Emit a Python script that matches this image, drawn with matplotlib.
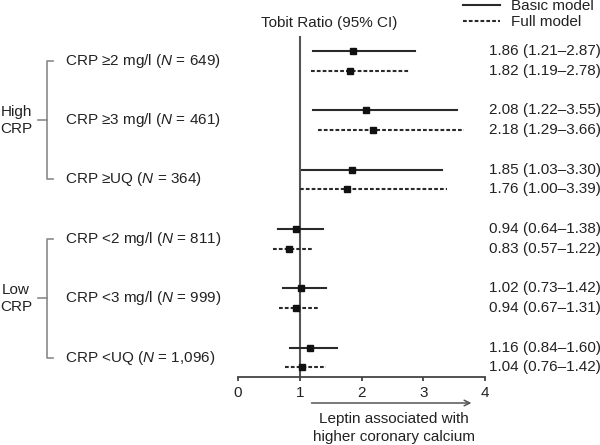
import matplotlib
matplotlib.use("Agg")
import matplotlib.pyplot as plt
from matplotlib.lines import Line2D
import matplotlib.transforms as mtransforms

plt.rcParams['font.family'] = ['Liberation Sans', 'DejaVu Sans']
plt.rcParams['mathtext.fontset'] = 'custom'
plt.rcParams['mathtext.rm'] = 'Liberation Sans'
plt.rcParams['mathtext.it'] = 'Liberation Sans:italic'

# ---------------- data ----------------
categories = ["CRP \u22652 mg/l", "CRP \u22653 mg/l", "CRP \u2265UQ",
              "CRP <2 mg/l", "CRP <3 mg/l", "CRP <UQ"]
n_values = ["649", "461", "364", "811", "999", "1,096"]
basic_est = [1.86, 2.08, 1.85, 0.94, 1.02, 1.16]
basic_lo = [1.21, 1.22, 1.03, 0.64, 0.73, 0.84]
basic_hi = [2.87, 3.55, 3.30, 1.38, 1.42, 1.60]
full_est = [1.82, 2.18, 1.76, 0.83, 0.94, 1.04]
full_lo = [1.19, 1.29, 1.00, 0.57, 0.67, 0.76]
full_hi = [2.78, 3.66, 3.39, 1.22, 1.31, 1.42]
groups = ["High\nCRP", "Low\nCRP"]
xticks = [0, 1, 2, 3, 4]

# ---------------- layout ----------------
W, H = 600, 445
fig = plt.figure(figsize=(6, 4.45), dpi=100)
ax_top, ax_bot = 30, 377
ax = fig.add_axes([238 / W, 1 - ax_bot / H, 247 / W, (ax_bot - ax_top) / H])
ax.set_xlim(0, 4)
ax.set_ylim(ax_bot, ax_top)   # y in pixel-like layout units

row0, gstep, fstep = 51, 59.35, 19.6
ypos_basic = [row0 + i * gstep for i in range(len(categories))]
ypos_full = [y + fstep for y in ypos_basic]

line_c = '#2a2a2a'
text_c = '#222222'

# reference line at 1
ax.plot([1, 1], [37, ax_bot], color='#555555', lw=1.5, zorder=1, clip_on=False)

for i in range(len(categories)):
    yb, yf = ypos_basic[i], ypos_full[i]
    ax.plot([basic_lo[i], basic_hi[i]], [yb, yb], color=line_c, lw=1.5, zorder=2)
    ax.plot([basic_est[i]], [yb], marker='s', ms=4.8, color='#111111', zorder=3)
    ax.plot([full_lo[i], full_hi[i]], [yf, yf], color=line_c, lw=1.5,
            ls=(0, (1.8, 1.0)), zorder=2)
    ax.plot([full_est[i]], [yf], marker='s', ms=4.8, color='#111111', zorder=3)
    ax.text(4.065, yb, f"{basic_est[i]:.2f} ({basic_lo[i]:.2f}\u2013{basic_hi[i]:.2f})",
            ha='left', va='center', fontsize=11, color=text_c, clip_on=False)
    ax.text(4.065, yf, f"{full_est[i]:.2f} ({full_lo[i]:.2f}\u2013{full_hi[i]:.2f})",
            ha='left', va='center', fontsize=11, color=text_c, clip_on=False)

# axes styling
for s in ['top', 'right', 'left']:
    ax.spines[s].set_visible(False)
ax.spines['bottom'].set_color('#444444')
ax.spines['bottom'].set_linewidth(1.3)
ax.set_yticks([])
ax.set_xticks(xticks)
ax.set_xticklabels([str(t) for t in xticks])
ax.tick_params(axis='x', direction='out', length=3, width=1.3, colors='#444444',
               labelsize=11, labelcolor=text_c, pad=3.5)
ax.patch.set_visible(False)

# left labels and brackets (x in figure fraction, y in layout units)
blend = mtransforms.blended_transform_factory(fig.transFigure, ax.transData)
mids = [(b + f) / 2 for b, f in zip(ypos_basic, ypos_full)]
for i, cat in enumerate(categories):
    ax.text(65 / W, mids[i], cat + r" ($\mathit{N}$ = " + n_values[i] + ")",
            transform=blend, ha='left', va='center', fontsize=11, color=text_c,
            clip_on=False)

br_c = '#8a8a8a'
for g, name in enumerate(groups):
    ys = mids[g * 3:(g + 1) * 3]
    top, bot, mid = ys[0], ys[-1], ys[1]
    xv, xh, xl = 47 / W, 53 / W, 38 / W
    ax.add_line(Line2D([xh, xv, xv, xh], [top, top, bot, bot], transform=blend,
                       color=br_c, lw=1.2, clip_on=False))
    ax.add_line(Line2D([xl, xv], [mid, mid], transform=blend,
                       color=br_c, lw=1.2, clip_on=False))
    ax.text(16 / W, mid, name, transform=blend, ha='center', va='center',
            multialignment='center', fontsize=11, color=text_c,
            linespacing=1.25, clip_on=False)

# title
fig.text(329.5 / W, 1 - 22.7 / H, "Tobit Ratio (95% CI)", ha='center', va='center',
         fontsize=11, color=text_c)

# legend
handles = [Line2D([], [], color=line_c, lw=1.5),
           Line2D([], [], color=line_c, lw=1.5, ls=(0, (1.8, 1.0)))]
fig.legend(handles, ["Basic model", "Full model"], loc='center left',
           bbox_to_anchor=(463 / W, 1 - 14 / H), frameon=False, fontsize=11,
           handlelength=2.4, handletextpad=0.75, labelspacing=0.15,
           borderpad=0, borderaxespad=0, labelcolor=text_c)

# arrow and caption
ax.annotate("", xy=(3.78, 403), xytext=(1.19, 403), xycoords='data',
            annotation_clip=False,
            arrowprops=dict(arrowstyle='->', color='#555555', lw=1.1,
                            shrinkA=0, shrinkB=0, mutation_scale=10))
ax.text(2.52, 428, "Leptin associated with\nhigher coronary calcium", ha='center',
        va='center', fontsize=11, color=text_c, linespacing=1.35, clip_on=False)

fig.savefig("out.png", dpi=100)
